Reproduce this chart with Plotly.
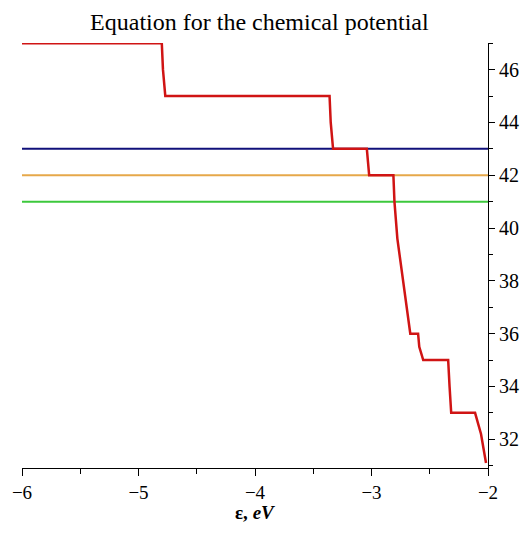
import plotly.graph_objects as go

# Red curve (staircase)
eps = [-6.0, -4.80, -4.79, -4.77, -3.36, -3.35, -3.33, -3.04, -3.03, -3.02,
       -2.812, -2.803, -2.778, -2.744, -2.701, -2.667, -2.60, -2.59, -2.556,
       -2.342, -2.33, -2.316, -2.111, -2.06, -2.017]
mu = [47.0, 47.0, 46.0, 45.0, 45.0, 44.0, 43.0, 43.0, 42.5, 42.0,
      42.0, 41.0, 39.6, 38.5, 37.2, 36.0, 36.0, 35.5, 35.0,
      35.0, 34.0, 33.0, 33.0, 32.2, 31.1]

# Horizontal reference levels
levels = [43, 42, 41]
level_colors = ["#10107a", "#e6a84a", "#3cc83c"]
x_span = [-6, -2]

x_ticks = [-6, -5, -4, -3, -2]
y_ticks = [32, 34, 36, 38, 40, 42, 44, 46]

fig = go.Figure()
for lv, col in zip(levels, level_colors):
    fig.add_trace(go.Scatter(x=x_span, y=[lv, lv], mode="lines",
                             line=dict(color=col, width=2), hoverinfo="skip"))
fig.add_trace(go.Scatter(x=eps, y=mu, mode="lines",
                         line=dict(color="#d01414", width=2.5)))

font_serif = "Liberation Serif, Times New Roman, serif"
W, H = 513, 517
L, R, T, B = 14, 33, 35, 57
plot_h = H - T - B
fig.update_layout(
    width=W, height=H,
    margin=dict(l=L, r=R, t=T, b=B, autoexpand=False),
    paper_bgcolor="white", plot_bgcolor="white",
    showlegend=False,
    title=dict(text="Equation for the chemical potential", x=0.49, xanchor="center",
               y=1 - 14 / H, yanchor="middle",
               font=dict(family=font_serif, size=24, color="black")),
    font=dict(family=font_serif, size=20, color="black"),
    xaxis=dict(range=[-6, -2], tickvals=x_ticks, showgrid=False, zeroline=False,
               showline=True, linecolor="black", linewidth=1.2, automargin=False,
               ticks="outside", ticklen=7, tickcolor="black",
               tickfont=dict(size=19),
               minor=dict(dtick=0.5, ticks="outside", ticklen=5, tickcolor="black")),
    yaxis=dict(range=[30.91, 47.01], tickvals=y_ticks, side="right",
               showgrid=False, zeroline=False, automargin=False,
               showline=True, linecolor="black", linewidth=1.2,
               ticks="outside", ticklen=6, tickcolor="black",
               minor=dict(dtick=1, ticks="outside", ticklen=4, tickcolor="black")),
    annotations=[dict(text="<b>ε, <i>eV</i></b>", xref="paper", yref="paper",
                      x=0.5, y=-44 / plot_h, xanchor="center", yanchor="middle",
                      showarrow=False, font=dict(family=font_serif, size=19))],
)

fig.write_html("out.html")
